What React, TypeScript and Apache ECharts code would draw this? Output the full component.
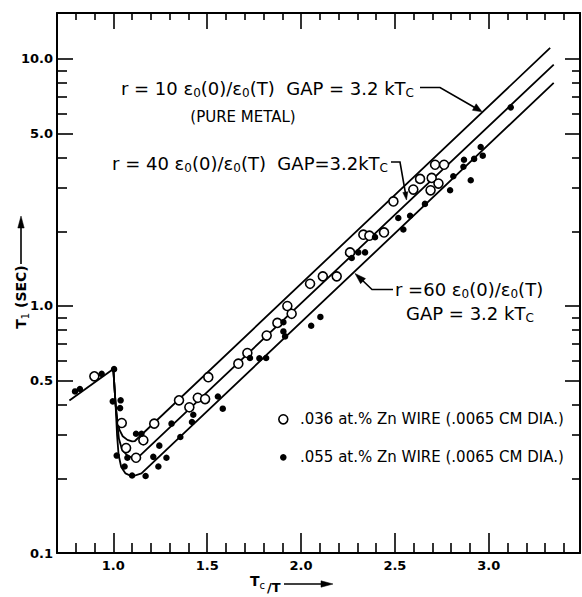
import React, { useEffect, useRef } from 'react';
import * as echarts from 'echarts';

const FONT = '"DejaVu Sans", "Liberation Sans", sans-serif';

// ---- axis ticks / labels ----
const xMajorTicks = [1.0, 1.5, 2.0, 2.5, 3.0];
const xMinorTicks = [0.8, 0.9, 1.1, 1.2, 1.3, 1.4, 1.6, 1.7, 1.8, 1.9, 2.1, 2.2, 2.3, 2.4, 2.6, 2.7, 2.8, 2.9, 3.1, 3.2, 3.3, 3.4];
const yTickLabels = [0.1, 0.5, 1.0, 5.0, 10.0];
const yMajorTicks = [0.5, 1.0, 5.0, 10.0];
const yMinorTicks = [0.2, 0.3, 0.4, 0.6, 0.7, 0.8, 0.9, 2, 3, 4, 6, 7, 8, 9];

// ---- measured points ----
const openCircles: [number, number][] = [
  [0.899, 0.519],
  [1.045, 0.336], [1.068, 0.266], [1.121, 0.243], [1.16, 0.286], [1.218, 0.334],
  [1.35, 0.415], [1.405, 0.389], [1.45, 0.425], [1.489, 0.42], [1.506, 0.515],
  [1.666, 0.584], [1.714, 0.645], [1.817, 0.759], [1.874, 0.854], [1.927, 1.0], [1.95, 0.93],
  [2.048, 1.23], [2.116, 1.318], [2.19, 1.318], [2.261, 1.648], [2.332, 1.944], [2.364, 1.926],
  [2.442, 1.985], [2.492, 2.65], [2.598, 2.96], [2.634, 3.27], [2.69, 2.94], [2.696, 3.3],
  [2.714, 3.73], [2.732, 3.13], [2.762, 3.73],
];

const filledDots: [number, number][] = [
  [0.796, 0.451], [0.822, 0.461], [0.938, 0.531], [1.004, 0.555],
  [0.997, 0.411], [1.039, 0.415], [1.036, 0.386],
  [1.018, 0.248], [1.075, 0.243], [1.06, 0.224], [1.1, 0.206],
  [1.121, 0.304], [1.15, 0.304], [1.172, 0.205], [1.213, 0.245], [1.245, 0.272],
  [1.24, 0.224], [1.283, 0.243], [1.31, 0.334], [1.357, 0.295], [1.419, 0.339], [1.426, 0.363],
  [1.557, 0.43], [1.583, 0.384], [1.728, 0.616], [1.778, 0.614], [1.814, 0.616],
  [1.906, 0.86], [1.906, 0.789], [1.915, 0.753], [2.054, 0.832], [2.103, 0.903],
  [2.27, 1.564], [2.305, 1.648], [2.341, 1.648], [2.394, 1.9],
  [2.518, 2.27], [2.545, 2.04], [2.581, 2.32], [2.66, 2.59],
  [2.794, 2.94], [2.811, 3.35], [2.865, 3.66], [2.868, 3.91], [2.904, 3.23],
  [2.922, 3.94], [2.957, 4.4], [2.968, 4.06], [3.117, 6.37],
];

// ---- theoretical curves ----
const normalLine: [number, number][] = [[0.766, 0.414], [1.0, 0.556]];
const curveR10: [number, number][] = [
  [1.0, 0.556], [1.012, 0.4], [1.021, 0.347], [1.033, 0.315], [1.05, 0.297],
  [1.075, 0.287], [1.1, 0.283], [1.115, 0.284], [3.327, 11.08],
];
const curveR40: [number, number][] = [
  [1.0, 0.556], [1.012, 0.4], [1.022, 0.33], [1.03, 0.29], [1.045, 0.264],
  [1.07, 0.25], [1.1, 0.243], [1.125, 0.241], [3.346, 9.49],
];
const curveR60: [number, number][] = [
  [1.0, 0.556], [1.012, 0.4], [1.02, 0.3], [1.028, 0.25], [1.042, 0.223],
  [1.065, 0.21], [1.1, 0.204], [1.15, 0.21], [3.346, 8.0],
];

const X_MIN = 0.7;
const X_MAX = 3.486;
const Y_MIN = 0.1;
const Y_MAX = 15.35;

const tickLine = { color: '#000', width: 1.6 };
const frameLine = { color: '#000', width: 2 };

function xAxisDef(position: string, ticks: number[], len: number, showLine: boolean, showLabel: boolean) {
  return {
    type: 'value',
    position,
    min: X_MIN,
    max: X_MAX,
    axisLine: { show: showLine, onZero: false, lineStyle: frameLine },
    axisTick: { show: true, inside: true, length: len, customValues: ticks, lineStyle: tickLine },
    axisLabel: showLabel
      ? {
          show: true,
          customValues: xMajorTicks,
          formatter: (v: number) => v.toFixed(1),
          margin: 6,
          color: '#000',
          fontFamily: FONT,
          fontSize: 13,
          fontWeight: 'bold',
        }
      : { show: false },
    splitLine: { show: false },
  };
}

function yAxisDef(position: string, ticks: number[], len: number, showLine: boolean, showLabel: boolean) {
  return {
    type: 'log',
    logBase: 10,
    position,
    min: Y_MIN,
    max: Y_MAX,
    axisLine: { show: showLine, onZero: false, lineStyle: frameLine },
    axisTick: { show: true, inside: true, length: len, customValues: ticks, lineStyle: tickLine },
    axisLabel: showLabel
      ? {
          show: true,
          customValues: yTickLabels,
          formatter: (v: number) => Number(v).toFixed(1),
          margin: 4,
          color: '#000',
          fontFamily: FONT,
          fontSize: 13,
          fontWeight: 'bold',
        }
      : { show: false },
    splitLine: { show: false },
    minorTick: { show: false },
  };
}

const lineCommon = {
  type: 'line',
  symbol: 'none',
  showSymbol: false,
  silent: true,
  lineStyle: { color: '#000', width: 1.8 },
  z: 2,
};

const rich18 = {
  n: { fontSize: 18, fontFamily: FONT, color: '#000', lineHeight: 22 },
  s: { fontSize: 12, fontFamily: FONT, color: '#000', lineHeight: 12, verticalAlign: 'bottom' },
};

function txt(x: number, y: number, text: string, align: string, extra: any = {}) {
  return {
    type: 'text',
    x,
    y,
    silent: true,
    style: {
      text,
      align,
      verticalAlign: 'middle',
      textAlign: align,
      textVerticalAlign: 'middle',
      fill: '#000',
      font: `15px ${FONT}`,
      ...extra,
    },
  };
}

function poly(points: number[][]) {
  return { type: 'polyline', silent: true, shape: { points }, style: { stroke: '#000', lineWidth: 1.6, fill: null } };
}
function head(points: number[][]) {
  return { type: 'polygon', silent: true, shape: { points }, style: { fill: '#000', stroke: '#000', lineWidth: 0.5 } };
}

const LEGEND_OPEN = '.036 at.% Zn WIRE (.0065 CM DIA.)';
const LEGEND_FILLED = '.055 at.% Zn WIRE (.0065 CM DIA.)';

const graphics: any[] = [
  // r = 10 annotation
  txt(414, 88, '{n|r = 10 ε}{s|0}{n|(0)/ε}{s|0}{n|(T)  GAP = 3.2 kT}{s|C}', 'right', { rich: rich18 }),
  poly([[420, 87.5], [440, 87.5], [476, 108.3]]),
  head([[482, 111.8], [472.4, 110.3], [476.2, 103.8]]),
  txt(243, 117, '(PURE METAL)', 'center', { font: `15px ${FONT}` }),
  // r = 40 annotation
  txt(388, 163, '{n|r = 40 ε}{s|0}{n|(0)/ε}{s|0}{n|(T)  GAP=3.2kT}{s|C}', 'right', { rich: rich18 }),
  poly([[391, 162], [400, 162], [405.6, 194]]),
  head([[406.5, 200], [402.8, 192.5], [407.8, 191.7]]),
  // r = 60 annotation
  txt(395, 289, '{n|r =60 ε}{s|0}{n|(0)/ε}{s|0}{n|(T)}', 'left', { rich: rich18 }),
  txt(406, 313, '{n|GAP = 3.2 kT}{s|C}', 'left', { rich: rich18 }),
  poly([[393, 289.5], [372, 289.5], [360, 278]]),
  head([[355, 273.5], [365.5, 278.6], [360.6, 283.7]]),
  // legend
  { type: 'circle', silent: true, shape: { cx: 283.3, cy: 419.3, r: 4.5 }, style: { fill: '#fff', stroke: '#000', lineWidth: 1.6 } },
  txt(300, 419.3, LEGEND_OPEN, 'left', { font: `15px ${FONT}` }),
  { type: 'circle', silent: true, shape: { cx: 283.3, cy: 457.3, r: 3.3 }, style: { fill: '#000' } },
  txt(300, 457.3, LEGEND_FILLED, 'left', { font: `15px ${FONT}` }),
  // y axis title
  {
    type: 'text',
    x: 21,
    y: 297,
    rotation: Math.PI / 2,
    silent: true,
    style: {
      text: '{n|T}{s|1}{n| (SEC)}',
      align: 'center',
      verticalAlign: 'middle',
      textAlign: 'center',
      textVerticalAlign: 'middle',
      rich: {
        n: { fontSize: 14, fontFamily: FONT, color: '#000', fontWeight: 'bold', lineHeight: 18 },
        s: { fontSize: 10, fontFamily: FONT, color: '#000', lineHeight: 10, verticalAlign: 'bottom' },
      },
    },
  },
  { type: 'line', silent: true, shape: { x1: 21, y1: 264, x2: 21, y2: 224 }, style: { stroke: '#000', lineWidth: 1.6 } },
  head([[21, 216], [17.8, 228], [24.2, 228]]),
  // x axis title  T_c / T
  txt(250, 581, '{n|T}{s|c}', 'left', {
    rich: {
      n: { fontSize: 14, fontFamily: FONT, color: '#000', fontWeight: 'bold', lineHeight: 18 },
      s: { fontSize: 10, fontFamily: FONT, color: '#000', lineHeight: 10, verticalAlign: 'bottom' },
    },
  }),
  txt(267, 587, '/T', 'left', { font: `bold 13px ${FONT}` }),
  { type: 'line', silent: true, shape: { x1: 284, y1: 584, x2: 324, y2: 584 }, style: { stroke: '#000', lineWidth: 1.6 } },
  head([[333, 584], [321, 580.8], [321, 587.2]]),
];

const option: any = {
  animation: false,
  backgroundColor: '#fff',
  grid: { left: 57, right: 2, top: 13, bottom: 44, containLabel: false, outerBoundsMode: 'none' },
  xAxis: [
    xAxisDef('bottom', xMajorTicks, 20, true, true),
    xAxisDef('bottom', xMinorTicks, 10, false, false),
    xAxisDef('top', xMajorTicks, 16, true, false),
    xAxisDef('top', xMinorTicks, 7, false, false),
  ],
  yAxis: [
    yAxisDef('left', yMajorTicks, 16, true, true),
    yAxisDef('left', yMinorTicks, 10, false, false),
    yAxisDef('right', yMajorTicks, 15, true, false),
    yAxisDef('right', yMinorTicks, 8, false, false),
  ],
  series: [
    { ...lineCommon, data: normalLine },
    { ...lineCommon, data: curveR10 },
    { ...lineCommon, data: curveR40 },
    { ...lineCommon, data: curveR60 },
    {
      type: 'scatter',
      name: LEGEND_OPEN,
      data: openCircles,
      symbol: 'circle',
      symbolSize: 9,
      itemStyle: { color: '#fff', borderColor: '#000', borderWidth: 1.6, opacity: 1 },
      z: 4,
      silent: true,
    },
    {
      type: 'scatter',
      name: LEGEND_FILLED,
      data: filledDots,
      symbol: 'circle',
      symbolSize: 6.5,
      itemStyle: { color: '#000', opacity: 1 },
      z: 5,
      silent: true,
    },
  ],
  graphic: { elements: graphics },
};

export default function App() {
  const ref = useRef<HTMLDivElement>(null);
  useEffect(() => {
    if (!ref.current) return;
    const chart = echarts.init(ref.current, undefined, { renderer: 'svg' });
    chart.setOption(option);
    return () => {
      chart.dispose();
    };
  }, []);
  return (
    <div
      ref={ref}
      style={{ position: 'absolute', left: 0, top: 0, width: 582, height: 597, background: '#fff' }}
    />
  );
}
